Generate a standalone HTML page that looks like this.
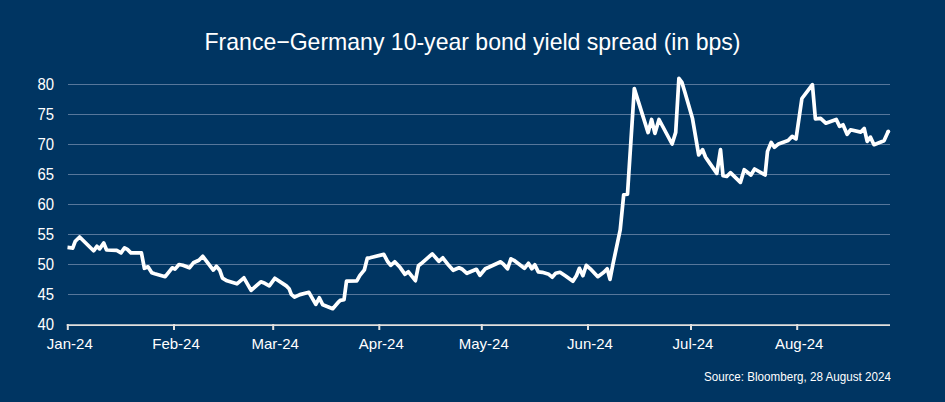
<!DOCTYPE html>
<html><head><meta charset="utf-8">
<style>
html,body{margin:0;padding:0;}
body{width:945px;height:402px;background:#003562;position:relative;overflow:hidden;font-family:"Liberation Sans",sans-serif;color:#ffffff;}
.title{position:absolute;left:0;width:945px;top:27.7px;text-align:center;font-size:24px;line-height:28px;white-space:nowrap;transform:scaleX(0.96);transform-origin:472px 0;}
.yl{position:absolute;left:20px;width:34px;text-align:right;font-size:16px;line-height:18px;transform:scaleX(0.93);transform-origin:34px 0;}
.xl{position:absolute;top:334.5px;width:80px;text-align:center;font-size:15px;line-height:18px;}
.src{position:absolute;right:54px;top:369px;font-size:13px;line-height:16px;white-space:nowrap;transform:scaleX(0.895);transform-origin:100% 0;}
svg{position:absolute;left:0;top:0;}
</style></head><body>
<svg width="945" height="402" viewBox="0 0 945 402">
<line x1="68" y1="84.5" x2="890" y2="84.5" stroke="#57779b" stroke-width="1"/>
<line x1="68" y1="114.5" x2="890" y2="114.5" stroke="#57779b" stroke-width="1"/>
<line x1="68" y1="144.5" x2="890" y2="144.5" stroke="#57779b" stroke-width="1"/>
<line x1="68" y1="174.5" x2="890" y2="174.5" stroke="#57779b" stroke-width="1"/>
<line x1="68" y1="204.5" x2="890" y2="204.5" stroke="#57779b" stroke-width="1"/>
<line x1="68" y1="234.5" x2="890" y2="234.5" stroke="#57779b" stroke-width="1"/>
<line x1="68" y1="264.5" x2="890" y2="264.5" stroke="#57779b" stroke-width="1"/>
<line x1="68" y1="294.5" x2="890" y2="294.5" stroke="#57779b" stroke-width="1"/>
<line x1="66.8" y1="325.2" x2="890" y2="325.2" stroke="#e2e0de" stroke-width="1.7"/>
<line x1="67.8" y1="324" x2="67.8" y2="330" stroke="#e2e0de" stroke-width="2"/>
<line x1="174" y1="324" x2="174" y2="330" stroke="#e2e0de" stroke-width="2"/>
<line x1="273.2" y1="324" x2="273.2" y2="330" stroke="#e2e0de" stroke-width="2"/>
<line x1="379.3" y1="324" x2="379.3" y2="330" stroke="#e2e0de" stroke-width="2"/>
<line x1="481.8" y1="324" x2="481.8" y2="330" stroke="#e2e0de" stroke-width="2"/>
<line x1="588" y1="324" x2="588" y2="330" stroke="#e2e0de" stroke-width="2"/>
<line x1="691" y1="324" x2="691" y2="330" stroke="#e2e0de" stroke-width="2"/>
<line x1="797.2" y1="324" x2="797.2" y2="330" stroke="#e2e0de" stroke-width="2"/>
<path d="M67.5,247.4 L71.2,247.8 L72.7,248.2 L75.3,241.2 L79.6,237 L93.6,250.8 L96.9,246.3 L99.6,248.9 L103.7,243 L106.6,250 L116.7,250.4 L118,251.1 L121,252.8 L124.5,247.9 L127.4,249.4 L130.9,252.8 L141.4,252.8 L144.4,268.3 L148,266.8 L151.8,272.7 L154.8,273.7 L165.2,276.7 L172.2,267.8 L175,269.1 L179,264.5 L182.9,265.3 L189.4,267.8 L193.4,262.8 L198.9,260.3 L202.8,256.3 L213.3,270.1 L216.3,266.3 L219.8,270.3 L222.5,278.2 L227,280.8 L236.9,283.8 L243.9,277.8 L251.1,290.3 L260.8,281.8 L264.8,283.3 L269.3,285.8 L274.8,278.3 L286.3,285.9 L289.1,288.7 L291.3,294.4 L294.5,297.2 L299.9,294.6 L308.9,292.3 L315.8,304.3 L319.3,297.8 L322.8,304.8 L332.7,308.7 L338.7,301.8 L340.2,300.4 L344,299.7 L346.5,281.2 L356.8,280.8 L359.9,275.3 L364.4,269.8 L367.3,258.2 L370,257.8 L383.8,254.4 L387.8,261.8 L390.7,265.3 L394.7,261.8 L400,267.3 L405,274.3 L408.4,271.8 L415.4,280.7 L418.4,265.8 L420.9,263.8 L424.9,260.3 L432.3,253.9 L438.8,261.3 L442.8,257.8 L448.7,265.3 L453.2,270.3 L459,267.8 L462.4,269.3 L466.9,273.3 L476.4,269.3 L479.9,275.3 L485.3,268.8 L488.8,267.3 L500.7,261.8 L503,263.8 L507.5,268.8 L510.9,258.8 L513.9,260.3 L524.4,268.3 L528.4,263.3 L531.8,268.8 L534.8,264.8 L538.3,271.8 L542.3,272.3 L548.8,274.3 L552.2,277.2 L555.7,273.3 L560,272.3 L566,276.3 L572.9,281.2 L576.4,275.7 L579.4,268.3 L582.9,275.7 L586.3,265.3 L590.3,268.8 L597.8,276.7 L603.8,272.3 L607.2,268.8 L610,279.4 L612.9,264.4 L620.2,229.9 L623.7,194.8 L627.5,194.1 L634.3,88.6 L648.1,132.6 L651.6,119.5 L654.9,133.4 L659,119.5 L672.1,144 L675.7,132.4 L678.9,78.4 L681.9,82.4 L684.9,92.3 L692.5,118.6 L698.7,154.9 L702.6,149.7 L705.6,157.2 L708.1,160.9 L716.8,173.4 L720.5,149.7 L723,175.8 L726.7,176.5 L730.4,172.7 L740.4,182.4 L744.2,169.7 L750.9,175 L754.6,169 L765.1,175 L767.5,151.4 L771.2,142.5 L774.4,147.3 L778.5,143.9 L788.1,140.5 L792.2,136.4 L796,138.9 L801.9,98.5 L812.4,84.7 L815.4,118.8 L820.6,118.4 L825.8,123.2 L836.2,119.4 L839.6,126.4 L843,124.8 L847.1,134.3 L850.5,129.8 L860.8,132.1 L864.2,128.4 L867.2,141.4 L870.4,137.1 L874,144.7 L884,140.8 L888.3,131.3" fill="none" stroke="#ffffff" stroke-width="3.7" stroke-linejoin="round" stroke-linecap="butt"/>
<circle cx="888.3" cy="131.3" r="1.85" fill="#ffffff"/>
</svg>
<div class="title">France&#8722;Germany 10-year bond yield spread (in bps)</div>
<div class="yl" style="top:76.0px">80</div>
<div class="yl" style="top:106.0px">75</div>
<div class="yl" style="top:136.0px">70</div>
<div class="yl" style="top:166.0px">65</div>
<div class="yl" style="top:196.0px">60</div>
<div class="yl" style="top:226.0px">55</div>
<div class="yl" style="top:256.0px">50</div>
<div class="yl" style="top:286.0px">45</div>
<div class="yl" style="top:316.0px">40</div>
<div class="xl" style="left:29.8px">Jan-24</div>
<div class="xl" style="left:136.0px">Feb-24</div>
<div class="xl" style="left:235.2px">Mar-24</div>
<div class="xl" style="left:341.3px">Apr-24</div>
<div class="xl" style="left:443.8px">May-24</div>
<div class="xl" style="left:550.0px">Jun-24</div>
<div class="xl" style="left:653.0px">Jul-24</div>
<div class="xl" style="left:759.2px">Aug-24</div>
<div class="src">Source: Bloomberg, 28 August 2024</div>
</body></html>
